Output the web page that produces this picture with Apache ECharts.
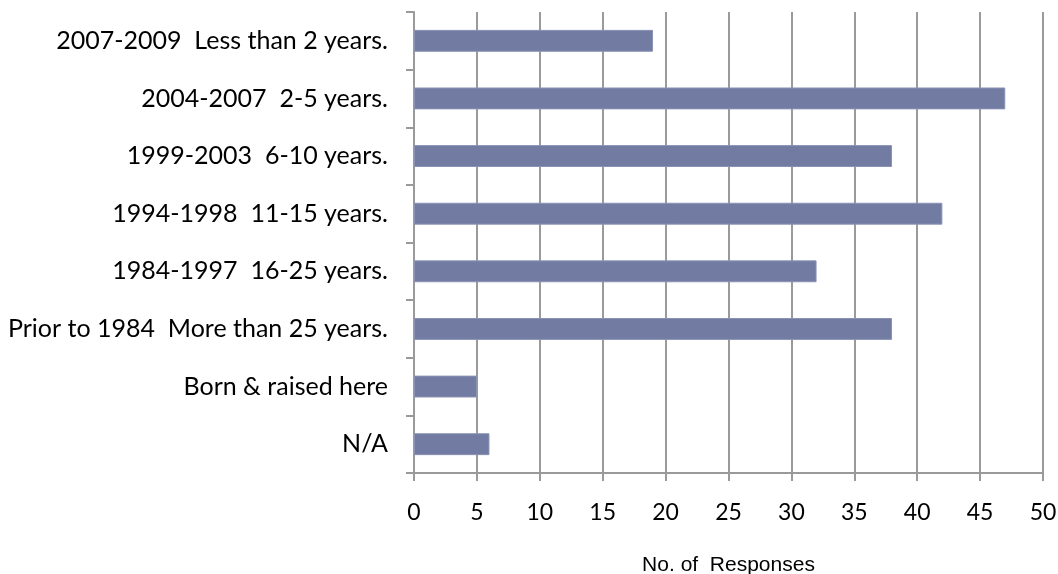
<!DOCTYPE html>
<html><head><meta charset="utf-8">
<script src="https://cdn.jsdelivr.net/npm/echarts@6/dist/echarts.min.js"></script>
<style>html,body{margin:0;padding:0;background:#fff}#c{width:1058px;height:574px}</style>
</head><body><div id="c"></div>
<script>
const categories = [
  "2007-2009  Less than 2 years.",
  "2004-2007  2-5 years.",
  "1999-2003  6-10 years.",
  "1994-1998  11-15 years.",
  "1984-1997  16-25 years.",
  "Prior to 1984  More than 25 years.",
  "Born & raised here",
  "N/A"
];
const responses = [19, 47, 38, 42, 32, 38, 5, 6];
const xTicks = { min: 0, max: 50, interval: 5 };
const axisTitle = "No. of  Responses";

const chart = echarts.init(document.getElementById('c'));
chart.setOption({
  animation: false,
  grid: { left: 414, right: 15, top: 12, bottom: 101, containLabel: false, outerBoundsMode: 'none' },
  xAxis: {
    type: 'value', min: xTicks.min, max: xTicks.max, interval: xTicks.interval,
    name: axisTitle, nameLocation: 'middle', nameGap: 82,
    nameTextStyle: { fontFamily: 'Liberation Sans', fontSize: 21, color: '#000' },
    axisLine: { show: true, lineStyle: { color: '#9a9a9a', width: 2 } },
    axisTick: { show: true, length: 8, lineStyle: { color: '#9a9a9a', width: 2 } },
    axisLabel: { margin: 28, fontFamily: 'Lato', fontSize: 23, color: '#000' },
    splitLine: { show: true, lineStyle: { color: '#9a9a9a', width: 2 } }
  },
  yAxis: {
    type: 'category', data: categories, inverse: true,
    axisLine: { show: true, lineStyle: { color: '#9a9a9a', width: 2 } },
    axisTick: { show: true, length: 8, alignWithLabel: false, lineStyle: { color: '#9a9a9a', width: 2 } },
    axisLabel: { margin: 26, fontFamily: 'Lato', fontSize: 25, color: '#000' },
    splitLine: { show: false }
  },
  series: [{
    type: 'bar', data: responses, barCategoryGap: '62%',
    itemStyle: { color: '#727ca3', borderColor: '#8b93b5', borderWidth: 1 }
  }]
});
</script></body></html>
